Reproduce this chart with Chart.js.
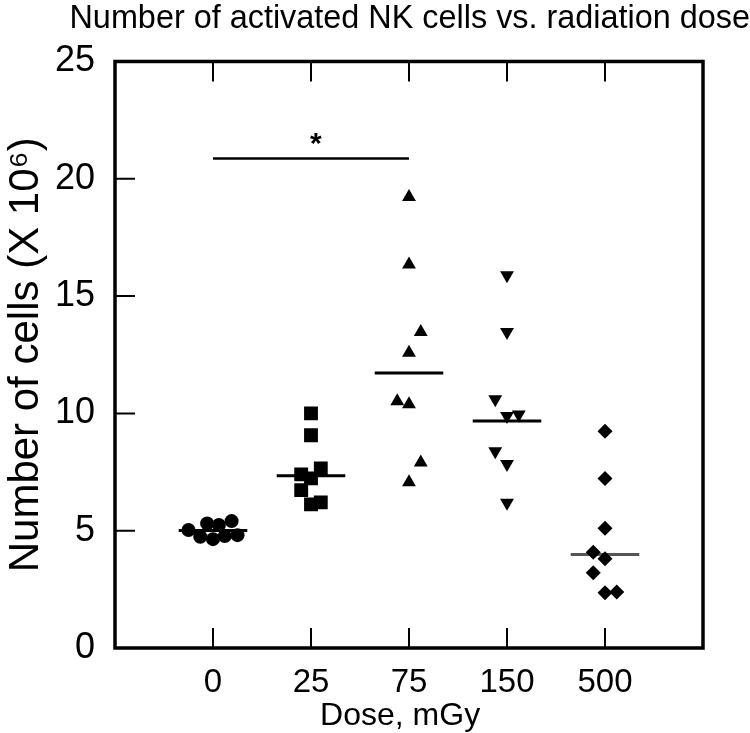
<!DOCTYPE html>
<html>
<head>
<meta charset="utf-8">
<script src="https://cdn.jsdelivr.net/npm/chart.js@4"></script>
<style>
  html, body { margin: 0; padding: 0; background: #fff; }
</style>
</head>
<body>
<canvas id="nkChart" width="750" height="733"></canvas>
<script>
// ---- data ----
const doseLabels = ['0', '25', '75', '150', '500'];

// cells (x 10^6) per dose group, with the horizontal spread used in the figure
const cells0   = [5.03, 5.31, 5.24, 5.41, 4.74, 4.64, 4.77, 4.81];
const jitter0  = [-0.25, -0.06, 0.06, 0.19, -0.13, 0, 0.12, 0.25];
const cells25  = [10.0, 9.07, 7.65, 7.40, 7.23, 6.73, 6.12, 6.21];
const jitter25 = [0, 0, 0.1, -0.1, 0, -0.1, 0, 0.1];
const cells75  = [19.22, 16.35, 13.47, 12.59, 10.52, 10.39, 7.91, 7.06];
const jitter75 = [0, 0, 0.12, 0, -0.12, 0, 0.12, 0];
const cells150  = [15.89, 13.47, 10.60, 9.89, 9.95, 8.39, 7.84, 6.19];
const jitter150 = [0, 0, -0.12, 0, 0.12, -0.12, 0, 0];
const cells500  = [9.24, 7.23, 5.10, 4.08, 3.80, 3.21, 2.36, 2.39];
const jitter500 = [0, 0, 0, -0.12, 0, -0.12, 0, 0.12];

const medians = [5.01, 7.34, 11.72, 9.68, 3.99];

const yTicks = [0, 5, 10, 15, 20, 25];

// significance bar between 0 and 75 mGy
const sigFrom = 0, sigTo = 2, sigLevel = 20.86, sigMark = '*';

// ---- build datasets ----
const groups = [
  { vals: cells0,   jit: jitter0,   style: 'circle',   r: 7,   rot: 0 },
  { vals: cells25,  jit: jitter25,  style: 'rect',     r: 9.8, rot: 0 },
  { vals: cells75,  jit: jitter75,  style: 'triangle', r: 8,   rot: 0 },
  { vals: cells150, jit: jitter150, style: 'triangle', r: 8,   rot: 180 },
  { vals: cells500, jit: jitter500, style: 'rectRot',  r: 7.5, rot: 0 }
];

const datasets = [];

groups.forEach((g, i) => {
  datasets.push({
    type: 'scatter',
    data: g.vals.map((v, k) => ({ x: i + g.jit[k], y: v })),
    pointStyle: g.style,
    rotation: g.rot,
    pointRadius: g.r,
    pointBackgroundColor: '#000',
    pointBorderColor: '#000',
    pointBorderWidth: 0,
    showLine: false
  });
});

medians.forEach((m, i) => {
  datasets.push({
    type: 'line',
    data: [{ x: i - 0.35, y: m }, { x: i + 0.35, y: m }],
    borderColor: i === 4 ? '#555' : '#000',
    borderWidth: 3,
    pointRadius: 0,
    fill: false
  });
});

datasets.push({
  type: 'line',
  data: [{ x: sigFrom, y: sigLevel }, { x: sigTo, y: sigLevel }],
  borderColor: '#000',
  borderWidth: 2.5,
  pointRadius: 0,
  fill: false
});

// frame, inward ticks and the significance star
const frameTicks = {
  id: 'frameTicks',
  afterDraw(chart) {
    const { ctx, chartArea: a, scales: { x, y } } = chart;
    ctx.save();
    ctx.strokeStyle = '#000';
    ctx.lineWidth = 2;
    ctx.beginPath();
    doseLabels.forEach((lab, i) => {
      const px = x.getPixelForValue(i);
      ctx.moveTo(px, a.bottom); ctx.lineTo(px, a.bottom - 20);
      ctx.moveTo(px, a.top); ctx.lineTo(px, a.top + 20);
    });
    yTicks.slice(1, -1).forEach(v => {
      const py = y.getPixelForValue(v);
      ctx.moveTo(a.left, py); ctx.lineTo(a.left + 20, py);
    });
    ctx.stroke();

    ctx.lineWidth = 3.5;
    ctx.strokeRect(a.left, a.top, a.right - a.left, a.bottom - a.top);

    ctx.fillStyle = '#000';
    ctx.font = 'bold 30px "Liberation Sans", Arial, sans-serif';
    ctx.textAlign = 'center';
    ctx.textBaseline = 'middle';
    ctx.fillText(sigMark, x.getPixelForValue((sigFrom + sigTo) / 2 + 0.05), y.getPixelForValue(sigLevel + 0.6));
    ctx.restore();
  }
};

const family = '"Liberation Sans", Arial, sans-serif';

new Chart(document.getElementById('nkChart'), {
  data: { datasets: datasets },
  options: {
    responsive: false,
    animation: false,
    layout: { padding: 0 },
    scales: {
      x: {
        type: 'linear',
        min: -1,
        max: 5,
        afterBuildTicks: (scale) => { scale.ticks = doseLabels.map((l, i) => ({ value: i })); },
        afterFit: (scale) => { scale.height = 85; },
        grid: { display: false },
        border: { display: false },
        ticks: {
          font: { family: family, size: 33 },
          color: '#000',
          padding: 7,
          maxRotation: 0,
          callback: (v) => doseLabels[v]
        },
        title: {
          display: true,
          text: 'Dose, mGy  ',
          font: { family: family, size: 32, lineHeight: 1 },
          color: '#000',
          padding: { top: 0, bottom: 1 }
        }
      },
      y: {
        min: 0,
        max: 25,
        afterBuildTicks: (scale) => { scale.ticks = yTicks.map(v => ({ value: v })); },
        afterFit: (scale) => { scale.width = 115; },
        grid: { display: false },
        border: { display: false },
        ticks: {
          font: { family: family, size: 36 },
          color: '#000',
          padding: 12
        },
        title: {
          display: true,
          text: 'Number of cells (X 10⁶)',
          font: { family: family, size: 42 },
          color: '#000',
          padding: { top: 1, bottom: 0 }
        }
      },
      // empty right-hand strip so the plot stops where the original does
      yRight: {
        position: 'right',
        grid: { display: false },
        border: { display: false },
        ticks: { display: false },
        afterFit: (scale) => { scale.width = 47; }
      }
    },
    plugins: {
      legend: { display: false },
      tooltip: { enabled: false },
      title: {
        display: true,
        text: 'Number of activated NK cells vs. radiation dose',
        align: 'end',
        color: '#000',
        font: { family: family, size: 32.4, weight: 'normal' },
        padding: { top: 0, bottom: 22.6 }
      }
    }
  },
  plugins: [frameTicks]
});
</script>
</body>
</html>
